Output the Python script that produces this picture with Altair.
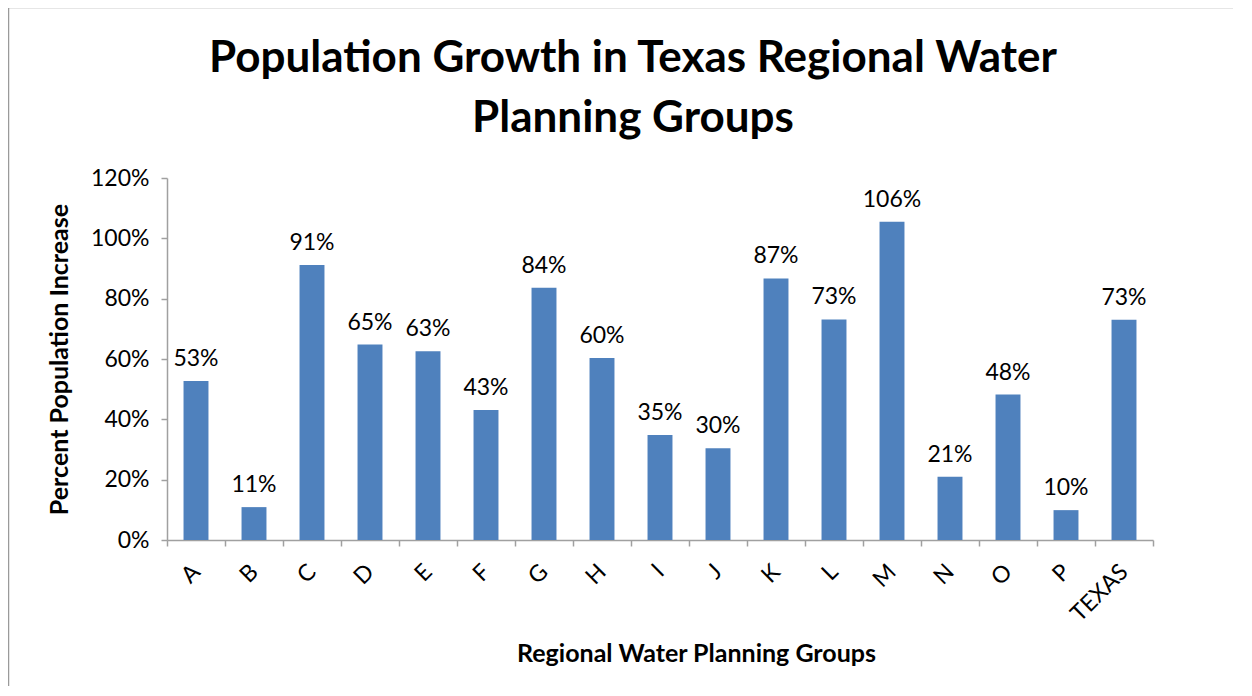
import altair as alt
import pandas as pd

groups = ["A", "B", "C", "D", "E", "F", "G", "H", "I", "J", "K", "L", "M", "N", "O", "P", "TEXAS"]
growth = [0.527, 0.109, 0.912, 0.648, 0.626, 0.431, 0.836, 0.603, 0.348, 0.304, 0.867, 0.731, 1.055, 0.210, 0.482, 0.099, 0.730]
labels = ["53%", "11%", "91%", "65%", "63%", "43%", "84%", "60%", "35%", "30%", "87%", "73%", "106%", "21%", "48%", "10%", "73%"]

df = pd.DataFrame({"group": groups, "growth": growth, "label": labels})

FONT = "Lato"
W, H = 986, 362
PAD_L, PAD_T, PAD_R, PAD_B = 159, 170, 80, 146

x_enc = alt.X(
    "group:N",
    sort=groups,
    scale=alt.Scale(paddingInner=0, paddingOuter=0),
    axis=alt.Axis(
        title="Regional Water Planning Groups",
        titleFont=FONT, titleFontSize=25, titleFontWeight="bold", titleColor="#000000",
        titleX=529, titleY=113, titleBaseline="middle",
        labelAngle=-45, labelFont=FONT, labelFontSize=23, labelColor="#000000",
        labelPadding=22, labelAlign="right", labelBaseline="middle",
        tickBand="extent", tickSize=6, tickColor="#A0A0A0", tickWidth=1.5,
        domainColor="#A0A0A0", domainWidth=1.5, grid=False,
    ),
)
y_enc = alt.Y(
    "growth:Q",
    scale=alt.Scale(domain=[0, 1.2], nice=False),
    axis=alt.Axis(
        title="Percent Population Increase",
        titleFont=FONT, titleFontSize=25, titleFontWeight="bold", titleColor="#000000",
        titlePadding=18,
        format=".0%", values=[0, 0.2, 0.4, 0.6, 0.8, 1.0, 1.2],
        labelFont=FONT, labelFontSize=23, labelColor="#000000", labelPadding=12,
        tickSize=6, tickColor="#A0A0A0", tickWidth=1.5,
        domainColor="#A0A0A0", domainWidth=1.5, grid=False,
    ),
)

bars = alt.Chart(df).mark_bar(color="#4F81BD", width={"band": 0.43}).encode(x=x_enc, y=y_enc)
text = alt.Chart(df).mark_text(font=FONT, fontSize=23, color="#000000", baseline="bottom", dy=-10).encode(
    x=alt.X("group:N", sort=groups), y="growth:Q", text="label:N"
)
border = alt.Chart(alt.Data(values=[{"a": 1}])).mark_rect(
    fillOpacity=0, stroke="#9A9A9A", strokeWidth=1.5
).encode(
    x=alt.value(-PAD_L + 0.5), x2=alt.value(W + PAD_R + 40),
    y=alt.value(-PAD_T - 1 + 0.5), y2=alt.value(H + PAD_B + 40),
)

chart = alt.layer(border, bars, text).properties(
    width=W, height=H,
    autosize=alt.AutoSizeParams(type="none"),
    padding={"left": PAD_L, "top": PAD_T, "right": PAD_R, "bottom": PAD_B},
    title=alt.TitleParams(
        text=["Population Growth in Texas Regional Water", "Planning Groups"],
        font=FONT, fontSize=44, fontWeight="bold", color="#000000",
        anchor="middle", frame="group", dx=-27, offset=-134, lineHeight=60,
    ),
).configure_view(stroke=None)

chart.save("out.html", embed_options={"renderer": "svg", "actions": False})
